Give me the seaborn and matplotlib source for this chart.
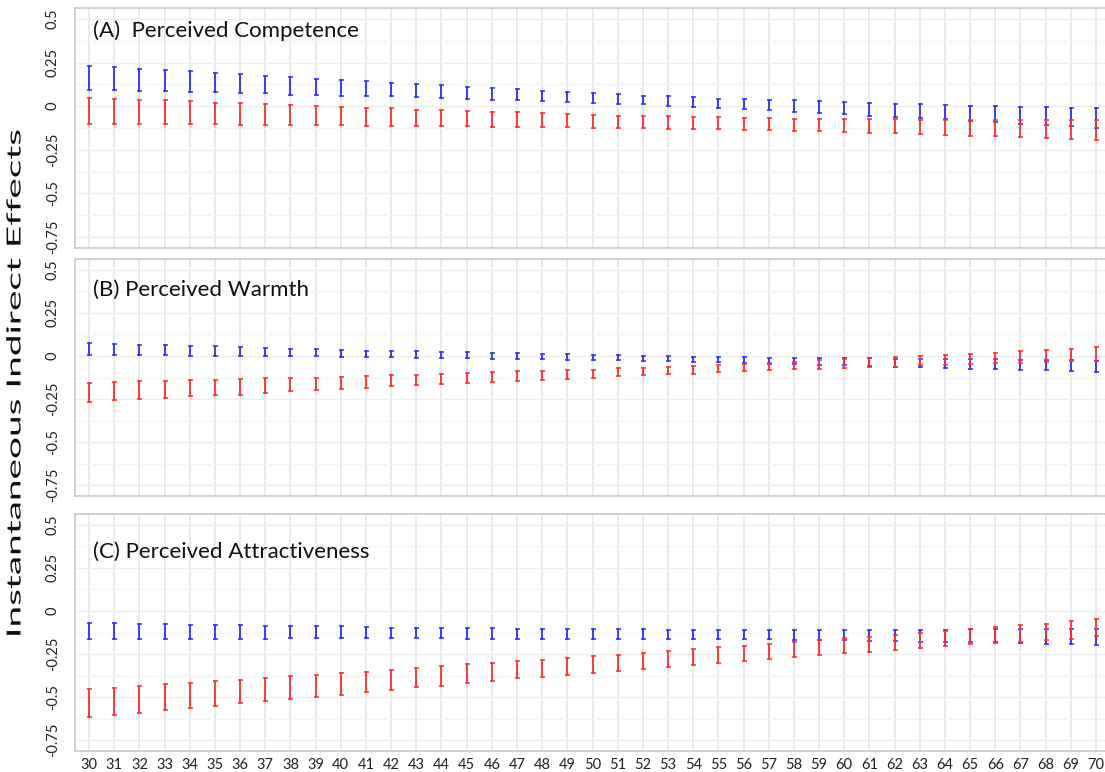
import numpy as np
import pandas as pd
import matplotlib
matplotlib.use("Agg")
import matplotlib.pyplot as plt
import seaborn as sns
from matplotlib.patheffects import AbstractPathEffect
from matplotlib.transforms import Affine2D

# ---------------------------------------------------------------------------
# Data: 95% intervals of the instantaneous indirect effect at each age
# ---------------------------------------------------------------------------
ages = list(range(30, 71))

panel_titles = ["(A)  Perceived Competence",
                "(B) Perceived Warmth",
                "(C) Perceived Attractiveness"]

# (A) Perceived Competence
comp_blue_hi = [0.232, 0.222, 0.213, 0.205, 0.199, 0.188, 0.182, 0.174, 0.165, 0.157,
                0.148, 0.142, 0.134, 0.125, 0.119, 0.111, 0.102, 0.096, 0.090, 0.082,
                0.075, 0.069, 0.061, 0.056, 0.050, 0.044, 0.042, 0.038, 0.034, 0.029,
                0.023, 0.019, 0.015, 0.010, 0.008, 0.004, 0.000, -0.002, -0.006, -0.008,
                -0.013]
comp_blue_lo = [0.092, 0.092, 0.086, 0.086, 0.080, 0.079, 0.075, 0.073, 0.067, 0.067,
                0.061, 0.057, 0.057, 0.050, 0.046, 0.042, 0.036, 0.033, 0.029, 0.025,
                0.021, 0.015, 0.010, 0.004, -0.002, -0.008, -0.015, -0.023, -0.031, -0.038,
                -0.046, -0.054, -0.061, -0.067, -0.075, -0.082, -0.092, -0.100, -0.107, -0.115,
                -0.123]
comp_red_hi = [0.048, 0.044, 0.038, 0.033, 0.027, 0.021, 0.017, 0.011, 0.008, 0.002,
               -0.004, -0.008, -0.013, -0.019, -0.023, -0.025, -0.031, -0.034, -0.040, -0.046,
               -0.050, -0.054, -0.056, -0.059, -0.061, -0.064, -0.066, -0.069, -0.071, -0.072,
               -0.074, -0.075, -0.076, -0.077, -0.077, -0.078, -0.078, -0.078, -0.078, -0.078,
               -0.078]
comp_red_lo = [-0.103, -0.103, -0.103, -0.103, -0.103, -0.103, -0.105, -0.107, -0.107, -0.109,
               -0.110, -0.111, -0.111, -0.111, -0.113, -0.113, -0.117, -0.117, -0.119, -0.121,
               -0.123, -0.125, -0.125, -0.128, -0.130, -0.133, -0.134, -0.136, -0.140, -0.144,
               -0.148, -0.151, -0.155, -0.159, -0.163, -0.169, -0.172, -0.178, -0.182, -0.186,
               -0.192]

# (B) Perceived Warmth
warm_blue_hi = [0.073, 0.067, 0.063, 0.062, 0.058, 0.056, 0.052, 0.046, 0.042, 0.038,
                0.034, 0.031, 0.028, 0.026, 0.023, 0.021, 0.017, 0.015, 0.012, 0.010,
                0.006, 0.004, 0.000, -0.002, -0.004, -0.007, -0.008, -0.009, -0.011, -0.012,
                -0.013, -0.014, -0.015, -0.017, -0.018, -0.019, -0.020, -0.021, -0.024, -0.026,
                -0.027]
warm_blue_lo = [0.006, 0.006, 0.004, 0.004, 0.002, 0.002, 0.000, 0.000, -0.002, -0.002,
                -0.005, -0.006, -0.008, -0.011, -0.012, -0.013, -0.015, -0.016, -0.019, -0.021,
                -0.023, -0.025, -0.029, -0.031, -0.033, -0.037, -0.041, -0.044, -0.048, -0.052,
                -0.055, -0.060, -0.063, -0.065, -0.069, -0.073, -0.077, -0.081, -0.084, -0.088,
                -0.092]
warm_red_hi = [-0.158, -0.154, -0.148, -0.144, -0.140, -0.137, -0.133, -0.129, -0.127, -0.125,
               -0.121, -0.117, -0.113, -0.110, -0.102, -0.098, -0.094, -0.090, -0.087, -0.083,
               -0.079, -0.071, -0.067, -0.062, -0.058, -0.052, -0.045, -0.039, -0.033, -0.026,
               -0.019, -0.013, -0.007, -0.001, 0.006, 0.013, 0.020, 0.027, 0.034, 0.042,
               0.050]
warm_red_lo = [-0.265, -0.256, -0.250, -0.244, -0.235, -0.229, -0.225, -0.215, -0.206, -0.198,
               -0.192, -0.185, -0.175, -0.169, -0.163, -0.156, -0.152, -0.144, -0.138, -0.133,
               -0.125, -0.119, -0.113, -0.106, -0.102, -0.095, -0.088, -0.083, -0.078, -0.073,
               -0.071, -0.064, -0.062, -0.055, -0.052, -0.048, -0.043, -0.041, -0.035, -0.030,
               -0.029]

# (C) Perceived Attractiveness
attr_blue_hi = [-0.067, -0.067, -0.073, -0.073, -0.079, -0.079, -0.083, -0.085, -0.087, -0.088,
                -0.090, -0.092, -0.096, -0.097, -0.099, -0.100, -0.101, -0.102, -0.103, -0.105,
                -0.106, -0.107, -0.107, -0.108, -0.109, -0.111, -0.111, -0.111, -0.111, -0.111,
                -0.111, -0.111, -0.108, -0.110, -0.110, -0.107, -0.107, -0.106, -0.106, -0.106,
                -0.106]
attr_blue_lo = [-0.163, -0.163, -0.163, -0.160, -0.160, -0.160, -0.160, -0.160, -0.158, -0.158,
                -0.158, -0.158, -0.158, -0.159, -0.159, -0.160, -0.160, -0.160, -0.160, -0.160,
                -0.160, -0.160, -0.161, -0.161, -0.162, -0.163, -0.164, -0.165, -0.168, -0.170,
                -0.171, -0.174, -0.175, -0.178, -0.180, -0.181, -0.183, -0.186, -0.190, -0.192,
                -0.196]
attr_red_hi = [-0.452, -0.446, -0.437, -0.424, -0.417, -0.406, -0.398, -0.390, -0.377, -0.369,
               -0.362, -0.352, -0.343, -0.331, -0.321, -0.310, -0.302, -0.290, -0.283, -0.273,
               -0.263, -0.256, -0.244, -0.233, -0.223, -0.211, -0.204, -0.192, -0.183, -0.169,
               -0.156, -0.150, -0.140, -0.129, -0.115, -0.106, -0.094, -0.083, -0.073, -0.060,
               -0.048]
attr_red_lo = [-0.613, -0.602, -0.590, -0.575, -0.562, -0.550, -0.533, -0.523, -0.510, -0.498,
               -0.487, -0.471, -0.458, -0.444, -0.433, -0.417, -0.406, -0.392, -0.381, -0.371,
               -0.360, -0.348, -0.335, -0.323, -0.313, -0.302, -0.290, -0.279, -0.267, -0.258,
               -0.244, -0.237, -0.225, -0.215, -0.204, -0.194, -0.187, -0.179, -0.167, -0.163,
               -0.148]

y_ticks = [0.5, 0.25, 0, -0.25, -0.5, -0.75]
y_tick_labels = ["0.5", "0.25", "0", "-0.25", "-0.5", "-0.75"]
y_label = "Instantaneous Indirect Effects"

series_colors = {"blue": "#2b2bff", "red": "#ff2b2b"}

panels = [
    (comp_blue_lo, comp_blue_hi, comp_red_lo, comp_red_hi),
    (warm_blue_lo, warm_blue_hi, warm_red_lo, warm_red_hi),
    (attr_blue_lo, attr_blue_hi, attr_red_lo, attr_red_hi),
]


def interval_frame(blue_lo, blue_hi, red_lo, red_hi):
    """Long-form table: two rows (interval ends) per age and series."""
    rows = []
    for name, lo, hi in (("blue", blue_lo, blue_hi), ("red", red_lo, red_hi)):
        for a, l, h in zip(ages, lo, hi):
            rows.append((a, l, name))
            rows.append((a, h, name))
    return pd.DataFrame(rows, columns=["age", "effect", "series"])


def span(v):
    return (v.min(), v.max())


class StretchText(AbstractPathEffect):
    """Stretch a text path along its own reading direction."""

    def __init__(self, factor=1.0):
        super().__init__()
        self.factor = factor

    def draw_path(self, renderer, gc, tpath, affine, rgbFace=None):
        ext = tpath.get_extents()
        cx = (ext.x0 + ext.x1) / 2.0
        stretch = Affine2D().translate(-cx, 0).scale(self.factor, 1.0).translate(cx, 0)
        renderer.draw_path(gc, tpath, stretch + affine, rgbFace)


# ---------------------------------------------------------------------------
# Style
# ---------------------------------------------------------------------------
sns.set_style("white")
plt.rcParams["font.family"] = ["Lato", "DejaVu Sans"]

W, H = 1105, 772
fig = plt.figure(figsize=(W / 100, H / 100), dpi=100)

# panel boxes in pixels: (top, bottom)
boxes = [(8, 248), (259, 496), (514, 751)]
title_y = [0.904, 0.869, 0.840]
left_px, right_px = 75, 1105

spine_col = "#c9c9c9"
grid_col = "#e4e4e4"
minor_col = "#f4f4f4"

for i, ((top, bot), data) in enumerate(zip(boxes, panels)):
    ax = fig.add_axes([left_px / W, 1 - bot / H, (right_px - left_px) / W, (bot - top) / H])
    df = interval_frame(*data)
    for name in ("blue", "red"):
        sns.lineplot(
            data=df[df["series"] == name], x="age", y="effect",
            estimator="mean", errorbar=span, err_style="bars",
            color=series_colors[name], linewidth=0, legend=False, ax=ax,
            err_kws=dict(capsize=1.8, elinewidth=1.3, capthick=1.1),
        )

    ax.set_xlim(29.44, 70.36)
    ax.set_ylim(-0.813, 0.563)

    ax.set_xticks(ages)
    ax.set_yticks(y_ticks)
    ax.set_yticks([0.375, 0.125, -0.125, -0.375, -0.625], minor=True)
    ax.set_yticklabels(y_tick_labels, rotation=90, va="center", ha="right")

    ax.grid(True, axis="x", which="major", color=grid_col, linewidth=1.1)
    ax.grid(True, axis="y", which="major", color="#ededed", linewidth=1.0)
    ax.grid(True, axis="y", which="minor", color=minor_col, linewidth=0.9)
    ax.set_axisbelow(True)

    ax.tick_params(axis="y", which="both", length=0, pad=11, labelsize=10.5,
                   labelcolor="#222222")
    ax.tick_params(axis="x", which="major", length=2, width=1, color="#333333",
                   direction="out", labelsize=10.5, labelcolor="#222222", pad=3)
    if i < 2:
        ax.tick_params(axis="x", labelbottom=False)

    for side in ("left", "top", "bottom"):
        ax.spines[side].set_visible(True)
        ax.spines[side].set_color(spine_col)
        ax.spines[side].set_linewidth(1.2)
    ax.spines["right"].set_visible(False)

    ax.set_xlabel("")
    ax.set_ylabel("")
    ax.text(0.0175, title_y[i], panel_titles[i], transform=ax.transAxes,
            ha="left", va="center", fontsize=16, color="#111111")

ylab = fig.text(15 / W, 1 - 383 / H, y_label, rotation=90, ha="center", va="center",
                fontsize=14, color="#111111")

# widen the axis title along its length to span the three panels
fig.canvas.draw()
label_len = ylab.get_window_extent().height
ylab.set_path_effects([StretchText(510 / label_len)])

fig.savefig("out.png", dpi=100)
